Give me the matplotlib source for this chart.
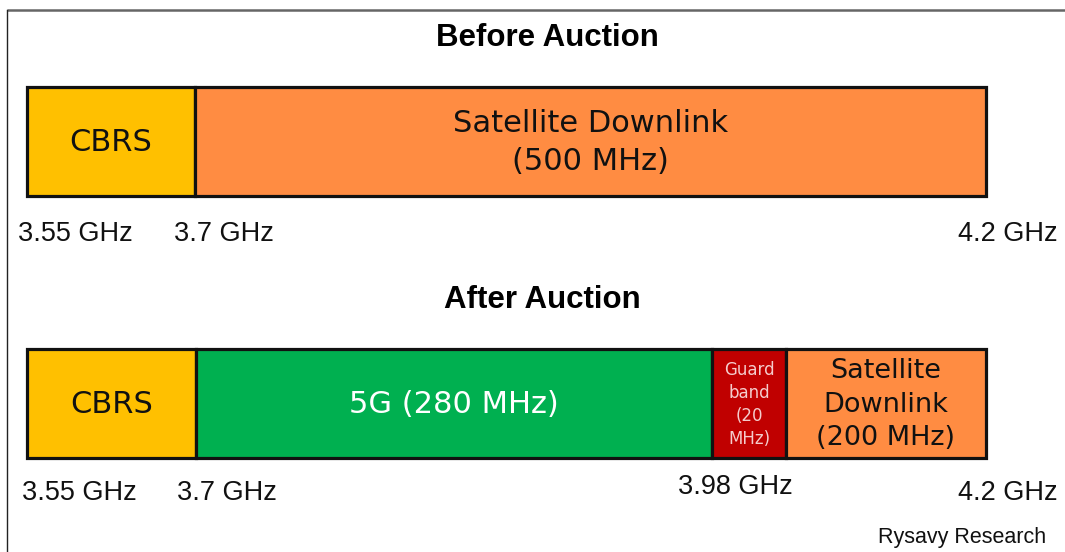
import matplotlib
matplotlib.use('Agg')
import matplotlib.pyplot as plt
import numpy as np

# spectrum blocks (widths are schematic, not to scale)
before_labels = ['CBRS', 'Satellite Downlink\n(500 MHz)']
before_widths = [168, 791]
before_colors = ['#FFC000', '#FF8C42']

after_labels = ['CBRS', '5G (280 MHz)', 'Guard\nband\n(20\nMHz)', 'Satellite\nDownlink\n(200 MHz)']
after_widths = [169, 516, 74, 200]
after_colors = ['#FFC000', '#00B050', '#C00000', '#FF8C42']
after_text_colors = ['#111111', 'white', '#F4CCCC', '#111111']
after_font_sizes = [22, 22, 12, 19.5]

before_freqs = ['3.55 GHz', '3.7 GHz', '4.2 GHz']
after_freqs = ['3.55 GHz', '3.7 GHz', '3.98 GHz', '4.2 GHz']

# layout (pixels)
W, H = 1065, 552
x0 = 27
bar_h = 109
before_y = 141.5
after_y = 403.5
before_freq_x = [(18, 'left'), (174, 'left'), (1058, 'right')]
after_freq_x = [(22, 'left'), (177, 'left'), (735, 'center'), (1058, 'right')]

fig = plt.figure(figsize=(W / 100, H / 100), dpi=100)
ax = fig.add_axes([0, 0, 1, 1])
ax.set_xlim(0, W)
ax.set_ylim(H, 0)
ax.axis('off')

# frame lines
ax.plot([7, W], [10, 10], color='#666666', lw=1.8, solid_capstyle='butt')
ax.plot([7, 7], [10, H], color='#222222', lw=1.0)


def draw_row(y, widths, colors, labels, text_colors, sizes):
    lefts = x0 + np.concatenate([[0], np.cumsum(widths)[:-1]])
    ax.barh(y, widths, left=lefts, height=bar_h, color=colors,
            edgecolor='#111111', linewidth=2.3)
    for l, w, lab, tc, fs in zip(lefts, widths, labels, text_colors, sizes):
        ax.text(l + w / 2, y + 1, lab, ha='center', va='center', color=tc,
                fontsize=fs, family='DejaVu Sans', linespacing=1.38)


draw_row(before_y, before_widths, before_colors, before_labels,
         ['#111111'] * 2, [22, 22])
draw_row(after_y, after_widths, after_colors, after_labels,
         after_text_colors, after_font_sizes)

ax.text(547, 38, 'Before Auction', ha='center', va='center',
        fontsize=22.5, fontweight='bold', family='Liberation Sans')
ax.text(542, 300, 'After Auction', ha='center', va='center',
        fontsize=22.5, fontweight='bold', family='Liberation Sans')

for lab, (x, ha) in zip(before_freqs, before_freq_x):
    ax.text(x, 234, lab, ha=ha, va='center', fontsize=19.5,
            family='Liberation Sans', color='#111111')
for lab, (x, ha) in zip(after_freqs, after_freq_x):
    y = 487 if lab == '3.98 GHz' else 493
    ax.text(x, y, lab, ha=ha, va='center', fontsize=19.5,
            family='Liberation Sans', color='#111111')

ax.text(1046, 538, 'Rysavy Research', ha='right', va='center',
        fontsize=15.5, family='Liberation Sans', color='#111111')

fig.savefig('out.png', dpi=100)
